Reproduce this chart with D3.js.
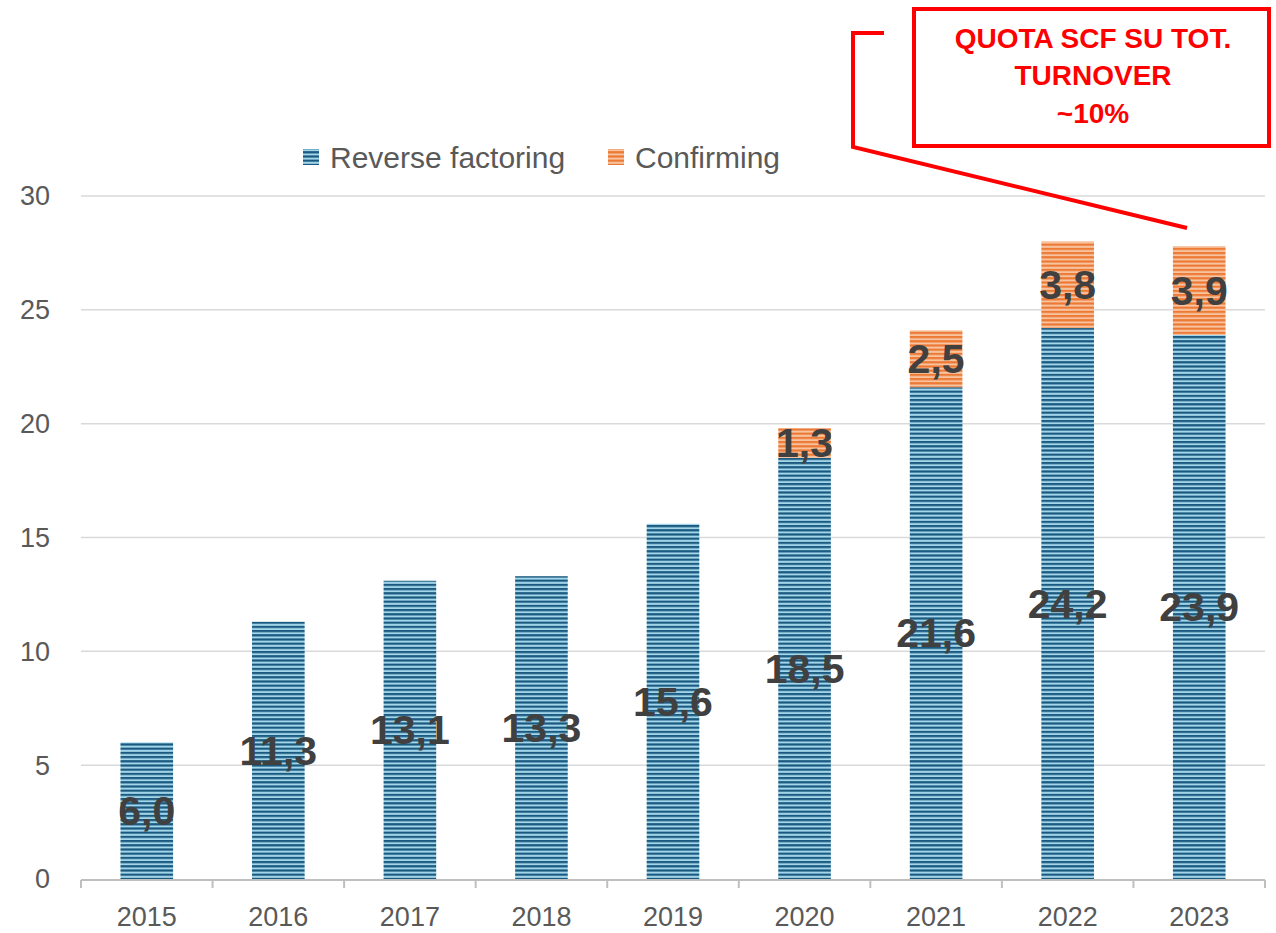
<!DOCTYPE html>
<html><head><meta charset="utf-8">
<script src="https://cdn.jsdelivr.net/npm/d3@7"></script>
<style>body{margin:0;background:#fff;}svg{display:block;}</style>
</head><body>
<script>
const categories = ["2015","2016","2017","2018","2019","2020","2021","2022","2023"];
const reverseFactoring = [6.0, 11.3, 13.1, 13.3, 15.6, 18.5, 21.6, 24.2, 23.9];
const confirming = [0, 0, 0, 0, 0, 1.3, 2.5, 3.8, 3.9];
const seriesNames = ["Reverse factoring", "Confirming"];
const yTicks = [0, 5, 10, 15, 20, 25, 30];
const annotationLines = ["QUOTA SCF SU TOT.", "TURNOVER", "~10%"];

const W = 1276, H = 933;
const svg = d3.select("body").append("svg").attr("width", W).attr("height", H);
const defs = svg.append("defs");
function stripe(id, dark, light) {
  const p = defs.append("pattern").attr("id", id).attr("patternUnits", "userSpaceOnUse")
    .attr("width", 8).attr("height", 4.2);
  p.append("rect").attr("width", 8).attr("height", 4.2).attr("fill", light);
  p.append("rect").attr("width", 8).attr("height", 2.2).attr("fill", dark);
}
stripe("pBlue", "#1b5a80", "#a3d6ea");
stripe("pOrange", "#ec7a35", "#f7c3a0");

const fontTxt = "'Liberation Sans', Arial, sans-serif";
const fontLbl = "'Liberation Sans', Arial, sans-serif";

const x = d3.scaleBand().domain(categories).range([81, 1265]).paddingInner(0.6).paddingOuter(0.3);
const y = d3.scaleLinear().domain([0, 30]).range([879, 196]);

// gridlines
svg.append("g").selectAll("line").data(yTicks.filter(d => d > 0)).join("line")
  .attr("x1", 81).attr("x2", 1265).attr("y1", d => y(d)).attr("y2", d => y(d))
  .attr("stroke", "#d9d9d9").attr("stroke-width", 1.5);

// y labels
svg.append("g").selectAll("text").data(yTicks).join("text")
  .attr("x", 50).attr("y", d => y(d)).attr("dy", "0.35em").attr("text-anchor", "end")
  .attr("font-family", fontTxt).attr("font-size", 27).attr("fill", "#595959").text(d => d);

// bars
const stackData = categories.map((c, i) => ({cat: c, rf: reverseFactoring[i], cf: confirming[i]}));
const stack = d3.stack().keys(["rf", "cf"])(stackData);
const fills = ["url(#pBlue)", "url(#pOrange)"];
stack.forEach((s, si) => {
  svg.append("g").selectAll("rect").data(s.filter(d => d[1] - d[0] > 0)).join("rect")
    .attr("x", d => x(d.data.cat)).attr("width", x.bandwidth())
    .attr("y", d => y(d[1])).attr("height", d => y(d[0]) - y(d[1]))
    .attr("fill", fills[si]);
});

// x axis
const step = x.step();
svg.append("line").attr("x1", 81).attr("x2", 1265).attr("y1", 880).attr("y2", 880)
  .attr("stroke", "#bfbfbf").attr("stroke-width", 2);
const tickXs = d3.range(categories.length + 1).map(i => 81 + i * step);
svg.append("g").selectAll("line").data(tickXs).join("line")
  .attr("x1", d => d).attr("x2", d => d).attr("y1", 880).attr("y2", 888)
  .attr("stroke", "#bfbfbf").attr("stroke-width", 2);
svg.append("g").selectAll("text").data(categories).join("text")
  .attr("x", d => x(d) + x.bandwidth() / 2).attr("y", 926)
  .attr("text-anchor", "middle").attr("font-family", fontTxt).attr("font-size", 27)
  .attr("fill", "#595959").text(d => d);

// data labels
const fmt = v => v.toFixed(1).replace(".", ",");
stack.forEach((s) => {
  svg.append("g").selectAll("text").data(s.filter(d => d[1] - d[0] > 0)).join("text")
    .attr("x", d => x(d.data.cat) + x.bandwidth() / 2)
    .attr("y", d => (y(d[0]) + y(d[1])) / 2).attr("dy", "0.35em")
    .attr("text-anchor", "middle").attr("font-family", fontLbl).attr("font-weight", "bold")
    .attr("font-size", 41).attr("fill", "#404040").text(d => fmt(d[1] - d[0]));
});

// legend
const leg = svg.append("g").attr("font-family", fontTxt).attr("font-size", 30).attr("fill", "#595959");
const legItems = [{name: seriesNames[0], fill: fills[0], x: 303}, {name: seriesNames[1], fill: fills[1], x: 608}];
legItems.forEach(l => {
  leg.append("rect").attr("x", l.x).attr("y", 149).attr("width", 16).attr("height", 16).attr("fill", l.fill);
  leg.append("text").attr("x", l.x + 27).attr("y", 157).attr("dy", "0.35em").text(l.name);
});

// annotation
svg.append("rect").attr("x", 914).attr("y", 9).attr("width", 355).attr("height", 137)
  .attr("fill", "#fff").attr("stroke", "#ff0000").attr("stroke-width", 4);
svg.append("g").selectAll("text").data(annotationLines).join("text")
  .attr("x", 1093).attr("y", (d, i) => 38 + i * 37.5).attr("dy", "0.35em")
  .attr("text-anchor", "middle").attr("font-family", fontLbl).attr("font-weight", "bold")
  .attr("font-size", 28).attr("fill", "#ff0000").text(d => d);
svg.append("path").attr("d", "M884,33 L853,33 L853,147 L1187,228")
  .attr("fill", "none").attr("stroke", "#ff0000").attr("stroke-width", 4);
</script>
</body></html>
